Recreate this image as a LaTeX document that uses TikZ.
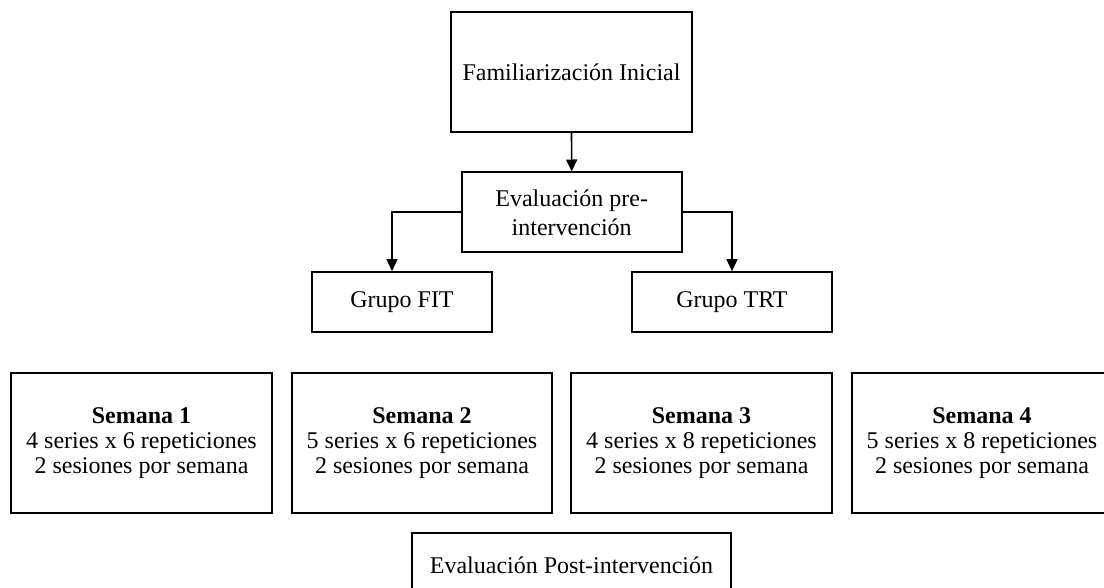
\documentclass[tikz,border=0pt]{standalone}
\usepackage{fontspec}
\setmainfont{Liberation Serif}
\usetikzlibrary{arrows.meta}
\begin{document}
\begin{tikzpicture}[x=1pt,y=-1pt,
  box/.style={draw=black,line width=1.6pt,inner sep=0pt,align=center,
    font=\fontsize{24}{25}\selectfont},
  weekbox/.style={box,minimum width=260pt,minimum height=140pt},
  arr/.style={draw=black,line width=1.6pt,-{Triangle[width=11pt,length=12pt]}}]
\useasboundingbox (0,0) rectangle (1104,588);
\clip (0,0) rectangle (1104,588);
\fill[white] (0,0) rectangle (1104,588);
\node[box,minimum width=241pt,minimum height=120pt] (fam) at (571.5,72) {Familiarización Inicial};
\node[box,minimum width=220pt,minimum height=80pt,font=\fontsize{24}{29}\selectfont] (eval) at (571.7,212.3) {Evaluación pre-\\intervención};
\node[box,minimum width=180pt,minimum height=60pt] (fit) at (402,302) {Grupo FIT};
\node[box,minimum width=200pt,minimum height=60pt] (trt) at (732,302) {Grupo TRT};
\node[weekbox,minimum width=261pt] (s1) at (141.5,443) {\textbf{Semana 1}\\4 series x 6 repeticiones\\2 sesiones por semana};
\node[weekbox] (s2) at (422,443) {\textbf{Semana 2}\\5 series x 6 repeticiones\\2 sesiones por semana};
\node[weekbox,minimum width=261pt] (s3) at (701.5,443) {\textbf{Semana 3}\\4 series x 8 repeticiones\\2 sesiones por semana};
\node[weekbox] (s4) at (982,443) {\textbf{Semana 4}\\5 series x 8 repeticiones\\2 sesiones por semana};
\node[box,minimum width=319pt,minimum height=64pt] (post) at (571.5,565) {Evaluación Post-intervención};
\draw[arr] (fam.south) -- (eval.north);
\draw[arr] (eval.west) -| ([xshift=-10pt]fit.north);
\draw[arr] (eval.east) -| (trt.north);
\end{tikzpicture}
\end{document}
